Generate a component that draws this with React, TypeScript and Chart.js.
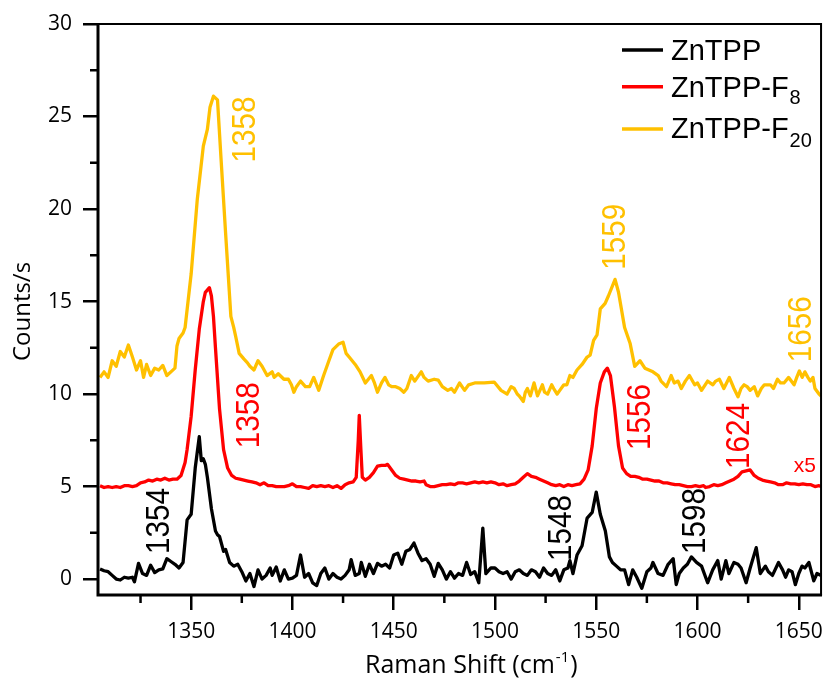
import { useEffect, useRef } from "react";
import { Chart, registerables } from "chart.js";

Chart.register(...registerables);

// ---------- data ----------
const znTppX = [1305,1307,1309,1311,1313,1315,1317,1319,1321,1322,1324,1326,1328,1330,1332,1334,1336,1338,1340,1342,1344,1346,1348,1350,1352,1354,1355,1356,1357,1358,1360,1362,1363,1364,1366,1367,1369,1371,1373,1375,1377,1379,1381,1383,1385,1387,1389,1390,1392,1394,1396,1398,1400,1402,1404,1406,1408,1410,1412,1414,1416,1418,1420,1422,1424,1426,1428,1429,1431,1433,1434,1436,1438,1440,1442,1444,1446,1448,1450,1452,1454,1456,1458,1460,1462,1464,1466,1468,1470,1472,1474,1476,1478,1480,1482,1484,1486,1488,1490,1492,1494,1495.5,1498,1500,1502,1504,1506,1508,1510,1512,1514,1516,1518,1520,1522,1524,1526,1528,1530,1532,1534,1536,1537,1538.5,1540.5,1543,1545.5,1548,1550,1552,1554.5,1556.5,1558,1560,1562,1564,1566,1568,1570,1572.5,1575,1577,1578,1580.5,1583,1585.5,1588,1589.5,1591,1593,1595,1597,1599.5,1602,1605,1607.5,1610,1611.7,1614,1615.5,1618,1620,1621.5,1624,1626,1629,1631,1633.5,1635,1637,1640,1642,1643.5,1645,1646.7,1648.3,1650,1651.6,1653,1655,1657.4,1659,1661];
const znTppY = [0.55,0.45,0.4,0.2,0.0,-0.05,0.1,0.05,0.1,-0.15,0.85,0.3,0.2,0.75,0.35,0.5,0.55,1.1,0.95,0.8,0.6,0.9,3.2,3.5,6.0,7.7,6.4,6.5,6.2,5.5,3.8,2.6,2.4,2.3,1.5,1.6,0.9,0.7,0.8,0.4,-0.1,0.3,-0.4,0.5,0.0,0.2,0.6,0.2,0.65,-0.1,0.5,0.0,0.05,0.2,1.3,0.1,0.3,-0.2,-0.35,0.3,0.6,0.0,0.3,0.1,0.0,0.2,0.5,1.05,0.2,0.3,0.9,0.15,0.8,0.3,0.85,0.7,0.8,0.6,1.3,1.4,0.8,1.5,1.6,1.95,1.4,1.0,1.1,0.8,0.15,0.85,0.5,0.0,0.4,0.05,0.3,0.2,0.9,0.25,0.4,-0.2,2.75,0.3,0.6,0.6,0.4,0.3,0.4,0.0,0.4,0.5,0.3,0.2,0.5,0.4,0.1,0.6,0.3,0.2,0.5,-0.1,0.5,0.6,1.0,0.3,1.3,1.8,3.3,3.6,4.7,3.5,2.6,1.2,0.9,0.7,0.5,0.5,-0.3,0.5,0.1,-0.5,0.4,0.6,0.9,0.3,0.2,0.8,1.1,-0.3,0.3,0.6,0.8,1.2,0.9,0.7,-0.2,0.5,1.0,0.0,1.0,0.3,0.9,0.8,0.6,-0.2,0.6,1.7,0.3,0.7,0.4,0.2,0.9,0.5,0.1,0.5,0.4,-0.3,0.3,0.7,0.6,0.9,-0.1,0.3,0.2];

const znTppF8X = [1305,1307,1309,1311,1313,1315,1317,1319,1321,1323,1325,1327,1329,1331,1333,1335,1337,1339,1341,1343,1345,1347,1348,1350,1352,1354,1356,1357,1359,1360,1361,1362,1364,1366,1368,1370,1372,1374,1376,1378,1380,1382,1384,1386,1388,1390,1392,1394,1396,1398,1400,1402,1404,1406,1408,1410,1412,1414,1416,1418,1420,1422,1424,1426,1428,1430,1431.5,1432.5,1433,1433.8,1434.5,1436,1438,1440,1442,1444,1446,1447,1449,1451,1453,1455,1457,1459,1461,1463,1465,1466,1468,1470,1472,1474,1476,1478,1480,1482,1484,1486,1488,1490,1492,1494,1496,1498,1500,1502,1504,1506,1508,1510,1512,1514,1516,1518,1520,1522,1524,1526,1528,1530,1532,1534,1536,1538,1540,1542,1544,1546,1548,1550,1552,1554,1555.5,1557,1559,1561,1563,1565,1567,1569,1571,1573,1575,1577,1579,1581,1583,1585,1587,1589,1591,1593,1595,1597,1599,1601,1603,1604,1606,1608,1610,1612,1614,1616,1618,1620,1622,1624,1626,1628,1630,1632,1634,1636,1638,1640,1642,1644,1646,1648,1650,1652,1654,1656,1658,1660,1661];
const znTppF8Y = [5.05,4.95,5.0,4.95,5.0,4.95,5.05,5.05,5.0,5.05,5.2,5.25,5.35,5.3,5.4,5.35,5.45,5.35,5.4,5.4,5.6,6.3,7.0,8.8,11.3,13.5,15.0,15.5,15.75,15.3,14.2,12.5,9.2,7.0,6.0,5.6,5.45,5.4,5.35,5.3,5.25,5.2,5.1,5.2,5.05,5.05,5.0,5.0,5.0,5.05,5.15,5.0,5.0,4.95,4.9,5.05,5.0,5.05,5.0,5.05,4.95,5.05,4.9,5.1,5.2,5.25,5.5,7.5,8.85,7.0,5.5,5.35,5.5,5.75,6.1,6.15,6.15,6.2,5.9,5.6,5.45,5.4,5.35,5.3,5.3,5.25,5.3,5.1,5.0,5.0,5.05,5.1,5.1,5.15,5.1,5.2,5.2,5.15,5.2,5.25,5.2,5.25,5.2,5.25,5.2,5.1,5.15,5.05,5.1,5.15,5.3,5.5,5.7,5.55,5.5,5.4,5.3,5.2,5.1,5.05,5.1,5.0,5.1,5.05,5.1,5.15,5.4,5.9,7.2,9.2,10.6,11.2,11.4,11.0,9.3,7.2,6.0,5.7,5.55,5.55,5.5,5.4,5.4,5.35,5.3,5.3,5.2,5.2,5.15,5.1,5.1,5.05,5.0,5.0,5.05,5.0,5.05,4.95,5.0,5.1,5.05,5.1,5.2,5.3,5.4,5.55,5.8,5.85,5.9,5.6,5.45,5.35,5.3,5.25,5.2,5.1,5.1,5.2,5.15,5.15,5.1,5.15,5.1,5.1,5.0,5.05,5.0];

const znTppF20X = [1305,1307,1309,1311,1313,1315,1317,1319,1321,1323,1325,1326.5,1328,1330,1332,1334,1336,1338,1340,1342,1343,1344,1346,1347,1350,1353,1356,1358,1359.3,1361,1363,1364.7,1367,1369.6,1371,1372,1373.7,1376,1377.7,1379,1381,1383,1385,1387.5,1390,1391,1393,1395.8,1398,1399.5,1400.7,1402,1404,1406.4,1408.5,1410.5,1413,1415.4,1418,1420,1422.8,1425,1426.5,1428,1431,1433.4,1436,1437.5,1439,1440.5,1442,1444,1445.7,1447.5,1449,1451,1453,1455,1456.5,1458.7,1460.4,1463.6,1465,1467,1470,1472,1474,1476.7,1478.5,1480,1482.5,1485,1487,1490,1494.7,1499.6,1503,1506,1508,1509.5,1511,1512,1514,1515,1516,1517.5,1519.3,1521,1523.4,1524.5,1526,1528,1529,1530.7,1532,1534,1535.5,1537,1538.5,1540.5,1543,1545.5,1547,1548.7,1550.4,1552,1554.4,1556,1559.3,1561,1564,1566.7,1569,1571.6,1574,1576,1578,1580.6,1582,1584.7,1587,1588.5,1590.4,1592,1594,1596,1598.6,1600,1602,1605,1607.6,1609,1610.8,1613,1615.7,1618,1620,1621.5,1623,1624.5,1626,1628,1629.7,1631.5,1633,1636,1637.5,1639.5,1641,1642.7,1645,1647.7,1649,1650.3,1651.7,1653,1654.5,1655.7,1657,1658,1660,1661];
const znTppF20Y = [10.9,11.2,10.9,11.8,11.5,12.3,12.0,12.65,12.0,11.3,11.8,10.9,11.6,11.0,11.4,11.3,11.55,11.0,11.2,11.4,12.6,13.0,13.3,13.6,16.5,20.5,23.4,24.3,25.5,26.1,25.9,22.8,18.7,14.2,13.6,13.1,12.2,11.9,11.7,11.5,11.3,11.8,11.5,11.0,11.2,10.9,11.1,10.8,10.8,10.5,10.1,10.4,10.7,10.4,10.4,10.9,10.2,11.0,11.8,12.4,12.7,12.8,12.2,12.0,11.6,11.2,10.6,10.8,11.0,10.6,10.1,10.6,10.9,10.5,10.4,10.4,10.3,10.1,10.3,11.0,10.7,11.2,10.9,10.7,10.8,10.75,10.4,10.2,10.3,10.1,10.6,10.2,10.5,10.6,10.6,10.65,10.2,10.0,10.4,10.3,10.0,9.9,9.6,10.1,10.3,9.9,10.6,9.9,10.5,10.1,10.0,10.5,10.3,10.0,10.2,10.5,10.5,11.0,10.9,11.3,11.6,12.0,12.1,12.9,13.2,14.6,14.9,15.3,16.2,15.5,13.6,12.75,11.5,11.8,11.4,11.3,11.2,11.0,10.7,10.4,11.0,10.6,10.7,10.3,10.7,11.0,10.5,10.6,10.2,10.7,10.5,10.7,10.8,10.3,10.9,10.3,9.85,10.3,10.5,10.4,10.2,10.4,9.9,10.3,10.5,10.5,10.3,10.8,10.6,10.6,10.9,10.5,10.9,11.25,10.9,11.2,10.9,10.7,10.9,10.3,10.0,9.9];

const seriesNames = ["ZnTPP", "ZnTPP-F", "ZnTPP-F"];
const seriesSubscripts = ["", "8", "20"];
const seriesColors = ["#000000", "#ff0000", "#ffc000"];

const xTickValues = [1350, 1400, 1450, 1500, 1550, 1600, 1650];
const xMinorValues = [1325, 1375, 1425, 1475, 1525, 1575, 1625];
const yTickValues = [0, 5, 10, 15, 20, 25, 30];
const yMinorValues = [2.5, 7.5, 12.5, 17.5, 22.5, 27.5];

const peakLabels = [
  { text: "1358", x: 1376.2, y: 24.3, color: "#ffc000" },
  { text: "1559", x: 1558.6, y: 18.5, color: "#ffc000" },
  { text: "1656", x: 1650.4, y: 13.5, color: "#ffc000" },
  { text: "1358", x: 1378.1, y: 8.86, color: "#ff0000" },
  { text: "1556", x: 1570.9, y: 8.76, color: "#ff0000" },
  { text: "1624", x: 1619.9, y: 7.73, color: "#ff0000" },
  { text: "1354", x: 1333.5, y: 3.14, color: "#000000" },
  { text: "1548", x: 1532.2, y: 2.76, color: "#000000" },
  { text: "1598", x: 1598.4, y: 3.14, color: "#000000" },
];
const scaleNote = { text: "x5", x: 1653, y: 6.1, color: "#ff0000" };

const X_MIN = 1304;
const X_MAX = 1661;
const Y_MIN = -0.86;
const Y_MAX = 30;

const TICK_FONT = "'Open Sans', 'Noto Sans', sans-serif";
const ANN_FONT = "'Liberation Sans', Arial, sans-serif";

const decorPlugin = {
  id: "decor",
  afterDraw(chart: any) {
    const { ctx, chartArea, scales } = chart;
    const xs = scales.x;
    const ys = scales.y;
    const { left, right, top, bottom } = chartArea;
    ctx.save();
    ctx.strokeStyle = "#000";
    ctx.lineCap = "butt";
    // frame
    ctx.lineWidth = 2;
    ctx.beginPath();
    ctx.moveTo(left, top);
    ctx.lineTo(right, top);
    ctx.lineTo(right, bottom);
    ctx.stroke();
    ctx.lineWidth = 3;
    ctx.beginPath();
    ctx.moveTo(left, top - 1);
    ctx.lineTo(left, bottom);
    ctx.lineTo(right + 1, bottom);
    ctx.stroke();
    // minor ticks
    ctx.lineWidth = 2.5;
    ctx.beginPath();
    for (const v of xMinorValues) {
      const px = xs.getPixelForValue(v);
      ctx.moveTo(px, bottom);
      ctx.lineTo(px, bottom + 8);
    }
    for (const v of yMinorValues) {
      const py = ys.getPixelForValue(v);
      ctx.moveTo(left, py);
      ctx.lineTo(left - 8, py);
    }
    ctx.stroke();

    // peak labels (rotated)
    ctx.textAlign = "center";
    ctx.textBaseline = "middle";
    for (const p of peakLabels) {
      ctx.save();
      ctx.translate(xs.getPixelForValue(p.x), ys.getPixelForValue(p.y));
      ctx.rotate(-Math.PI / 2);
      ctx.scale(0.9, 1);
      ctx.font = `33px ${ANN_FONT}`;
      ctx.fillStyle = p.color;
      ctx.fillText(p.text, 0, 2);
      ctx.restore();
    }
    ctx.save();
    ctx.translate(xs.getPixelForValue(scaleNote.x), ys.getPixelForValue(scaleNote.y));
    ctx.font = `21px ${ANN_FONT}`;
    ctx.fillStyle = scaleNote.color;
    ctx.fillText(scaleNote.text, 0, 0);
    ctx.restore();

    // legend
    const rowLineY = [50, 86.7, 129];
    const rowBase = [60, 97, 138];
    const subBase = [0, 104, 147];
    for (let i = 0; i < seriesNames.length; i++) {
      ctx.strokeStyle = seriesColors[i];
      ctx.lineWidth = 3.5;
      ctx.beginPath();
      ctx.moveTo(622, rowLineY[i]);
      ctx.lineTo(663, rowLineY[i]);
      ctx.stroke();
      ctx.fillStyle = "#000";
      ctx.textAlign = "left";
      ctx.textBaseline = "alphabetic";
      ctx.font = `29px ${ANN_FONT}`;
      ctx.fillText(seriesNames[i], 671, rowBase[i]);
      const w = ctx.measureText(seriesNames[i]).width;
      if (seriesSubscripts[i]) {
        ctx.font = `20px ${ANN_FONT}`;
        ctx.fillText(seriesSubscripts[i], 671 + w + 1, subBase[i]);
      }
    }

    // axis titles
    ctx.fillStyle = "#000";
    ctx.textAlign = "left";
    ctx.textBaseline = "alphabetic";
    ctx.font = `25px ${TICK_FONT}`;
    const t1 = "Raman Shift (cm";
    const x0 = 365;
    ctx.fillText(t1, x0, 673);
    let cx = x0 + ctx.measureText(t1).width;
    ctx.font = `15px ${TICK_FONT}`;
    ctx.fillText("-1", cx + 1, 662);
    cx += ctx.measureText("-1").width + 2;
    ctx.font = `25px ${TICK_FONT}`;
    ctx.fillText(")", cx, 673);

    ctx.save();
    ctx.translate(23, (top + bottom) / 2 + 2);
    ctx.rotate(-Math.PI / 2);
    ctx.textAlign = "center";
    ctx.textBaseline = "middle";
    ctx.font = `24px ${TICK_FONT}`;
    ctx.fillText("Counts/s", 0, 0);
    ctx.restore();
    ctx.restore();
  },
};

function makeData(xs: number[], ys: number[]) {
  return xs.map((x, i) => ({ x, y: ys[i] }));
}

export default function App() {
  const ref = useRef<HTMLCanvasElement | null>(null);
  useEffect(() => {
    if (!ref.current) return;
    const pairs = [
      makeData(znTppX, znTppY),
      makeData(znTppF8X, znTppF8Y),
      makeData(znTppF20X, znTppF20Y),
    ];
    const chart = new Chart(ref.current, {
      type: "line",
      data: {
        datasets: pairs.map((d, i) => ({
          label: seriesNames[i] + seriesSubscripts[i],
          data: d,
          borderColor: seriesColors[i],
          backgroundColor: seriesColors[i],
          borderWidth: 3.3,
          pointRadius: 0,
          tension: 0,
          fill: false,
          borderJoinStyle: "round" as const,
        })),
      },
      options: {
        responsive: false,
        animation: false,
        devicePixelRatio: 1,
        layout: { padding: { left: 0, top: 24, right: 7, bottom: 0 } },
        plugins: { legend: { display: false }, tooltip: { enabled: false } },
        scales: {
          x: {
            type: "linear",
            min: X_MIN,
            max: X_MAX,
            afterFit: (s: any) => { s.height = 84; },
            afterBuildTicks: (s: any) => { s.ticks = xTickValues.map((v) => ({ value: v })); },
            grid: { display: true, drawOnChartArea: false, drawTicks: true, tickLength: 15, lineWidth: 2.5, color: "#000" },
            border: { display: false },
            ticks: {
              color: "#000",
              font: { family: TICK_FONT, size: 21 },
              padding: 9,
              maxRotation: 0,
              autoSkip: false,
              callback: (v: any) => String(v),
            },
          },
          y: {
            type: "linear",
            min: Y_MIN,
            max: Y_MAX,
            afterFit: (s: any) => { s.width = 98; },
            afterBuildTicks: (s: any) => { s.ticks = yTickValues.map((v) => ({ value: v })); },
            grid: { display: true, drawOnChartArea: false, drawTicks: true, tickLength: 15, lineWidth: 2.5, color: "#000" },
            border: { display: false },
            ticks: {
              color: "#000",
              font: { family: TICK_FONT, size: 21 },
              padding: 11,
              autoSkip: false,
              callback: (v: any) => String(v),
            },
          },
        },
      },
      plugins: [decorPlugin],
    });
    return () => chart.destroy();
  }, []);
  return (
    <div style={{ position: "fixed", left: 0, top: 0, width: 832, height: 679, background: "#fff" }}>
      <canvas ref={ref} width={832} height={679} />
    </div>
  );
}
